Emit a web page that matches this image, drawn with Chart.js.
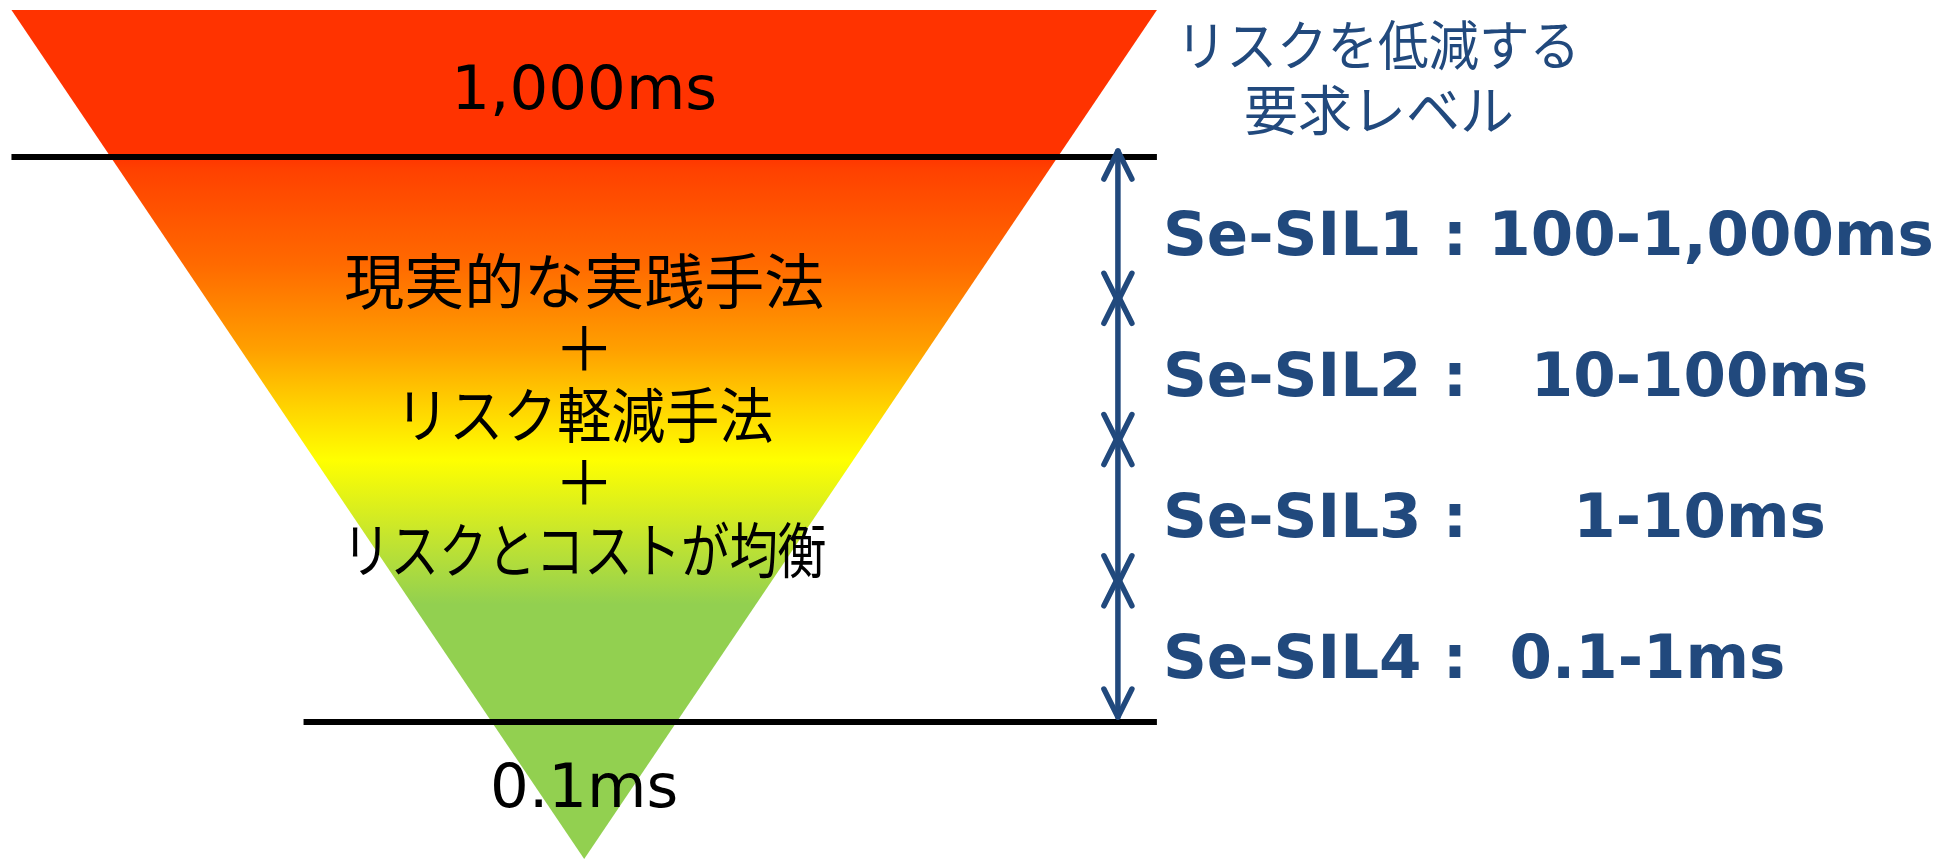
<!DOCTYPE html>
<html lang="ja">
<head>
<meta charset="utf-8">
<script src="https://cdn.jsdelivr.net/npm/chart.js@4"></script>
<style>
  html, body { margin: 0; padding: 0; background: #fff; }
  #wrap { width: 1953px; height: 862px; position: relative; }
</style>
</head>
<body>
<div id="wrap"><canvas id="chart"></canvas></div>
<script>
// 要求レベルの境界 (ms)
const boundsMs = [1000, 100, 10, 1, 0.1];
const silLabels = [
    'Se-SIL1 : 100-1,000ms',
    'Se-SIL2 :   10-100ms',
    'Se-SIL3 :     1-10ms',
    'Se-SIL4 :  0.1-1ms'
];
const topLabel = '1,000ms';
const bottomLabel = '0.1ms';
const centerLines = ['現実的な実践手法', '＋', 'リスク軽減手法', '＋', 'リスクとコストが均衡'];
const headerLines = ['リスクを低減する', '要求レベル'];

// 逆三角形の頂点 (x: 半幅を1とする, y: ms)
const triX = [-1, 1, 0, -1];
const triY = [11000, 11000, 0.0107, 11000];

// 横線の範囲 (x)
const topLineX = [-1, 1];
const bottomLineX = [-0.49, 1];

const BLUE = '#21497D';

// グラデーション (上から赤→オレンジ→黄→緑)
function triangleGradient(context) {
    const chart = context.chart;
    const { ctx, chartArea, scales } = chart;
    if (!chartArea) return '#FF3300';
    const y0 = scales.y.getPixelForValue(triY[0]);
    const y1 = scales.y.getPixelForValue(triY[2]);
    const g = ctx.createLinearGradient(0, y0, 0, y1);
    g.addColorStop(0, '#FF3300');
    g.addColorStop(0.17, '#FF3300');
    g.addColorStop(0.19, '#FF4200');
    g.addColorStop(0.30, '#FF6A00');
    g.addColorStop(0.40, '#FFA000');
    g.addColorStop(0.47, '#FFD500');
    g.addColorStop(0.53, '#FFFF00');
    g.addColorStop(0.62, '#C5E52E');
    g.addColorStop(0.70, '#92D050');
    g.addColorStop(1, '#92D050');
    return g;
}

function drawArrowHead(ctx, x, y, dir) {
    ctx.beginPath();
    ctx.moveTo(x - 14, y + dir * 28);
    ctx.lineTo(x, y);
    ctx.lineTo(x + 14, y + dir * 28);
    ctx.stroke();
}

// テキストと矢印を描くプラグイン
const overlay = {
    id: 'overlay',
    afterDatasetsDraw(chart) {
        const { ctx } = chart;
        const xs = chart.scales.x;
        const ys = chart.scales.y;
        const cx = xs.getPixelForValue(0);
        const right = xs.getPixelForValue(1);
        const yTopLine = ys.getPixelForValue(boundsMs[0]);
        const yBottomLine = ys.getPixelForValue(boundsMs[boundsMs.length - 1]);

        ctx.save();
        ctx.fillStyle = '#000';
        ctx.textAlign = 'center';
        ctx.textBaseline = 'alphabetic';
        ctx.font = '61px "DejaVu Sans", Verdana, sans-serif';
        ctx.fillText(topLabel, cx, yTopLine - 48);
        ctx.fillText(bottomLabel, cx, yBottomLine + 85);

        // 中央の文
        ctx.textBaseline = 'middle';
        ctx.font = '60px "Noto Sans CJK JP", sans-serif';
        const maxW = [488, 480, 378, 480, 484];
        centerLines.forEach((t, i) => {
            const y = yTopLine + 124 + i * 67.2;
            ctx.fillText(t, cx, y, maxW[i]);
        });

        // 右上の見出し
        ctx.fillStyle = BLUE;
        ctx.font = '54px "Noto Sans CJK JP", sans-serif';
        ctx.fillText(headerLines[0], right + 221, 45, 404);
        ctx.fillText(headerLines[1], right + 222, 110, 270);

        // 矢印
        const ax = right - 39;
        ctx.strokeStyle = BLUE;
        ctx.lineWidth = 5.5;
        ctx.lineCap = 'round';
        ctx.lineJoin = 'round';
        for (let i = 0; i < boundsMs.length - 1; i++) {
            const ya = ys.getPixelForValue(boundsMs[i]);
            const yb = ys.getPixelForValue(boundsMs[i + 1]);
            const t = ya - (i === 0 ? 6 : 3);
            const b = yb + (i === boundsMs.length - 2 ? -5 : 3);
            ctx.beginPath();
            ctx.moveTo(ax, t);
            ctx.lineTo(ax, b);
            ctx.stroke();
            drawArrowHead(ctx, ax, t, 1);
            drawArrowHead(ctx, ax, b, -1);

            // ラベル
            ctx.fillStyle = BLUE;
            ctx.textAlign = 'left';
            ctx.textBaseline = 'alphabetic';
            ctx.font = 'bold 61px "DejaVu Sans", Verdana, sans-serif';
            ctx.fillText(silLabels[i], ax + 45, (ya + yb) / 2 + 27);
        }
        ctx.restore();
    }
};

const toPoints = (xs, ys) => xs.map((x, i) => ({ x: x, y: ys[i] }));

new Chart(document.getElementById('chart'), {
    type: 'scatter',
    data: {
        datasets: [
            {
                type: 'line',
                data: toPoints(topLineX, [boundsMs[0], boundsMs[0]]),
                borderColor: '#000',
                borderWidth: 6,
                pointRadius: 0,
                fill: false,
                order: 1
            },
            {
                type: 'line',
                data: toPoints(bottomLineX, [boundsMs[4], boundsMs[4]]),
                borderColor: '#000',
                borderWidth: 6,
                pointRadius: 0,
                fill: false,
                order: 1
            },
            {
                type: 'line',
                data: toPoints(triX, triY),
                borderColor: 'transparent',
                borderWidth: 0,
                backgroundColor: triangleGradient,
                pointRadius: 0,
                tension: 0,
                fill: 'shape',
                order: 2
            }
        ]
    },
    options: {
        responsive: true,
        maintainAspectRatio: false,
        animation: false,
        layout: { padding: 0 },
        plugins: {
            legend: { display: false },
            tooltip: { enabled: false }
        },
        scales: {
            x: { type: 'linear', min: -1.02, max: 2.39, display: false },
            y: { type: 'logarithmic', min: 0.01021, max: 12930, display: false }
        }
    },
    plugins: [overlay]
});
</script>
</body>
</html>
